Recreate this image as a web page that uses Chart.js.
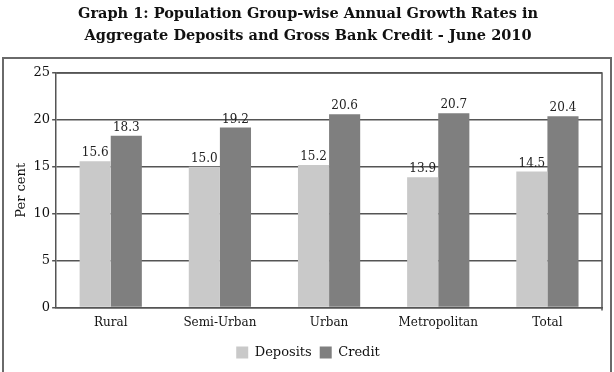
<!DOCTYPE html>
<html>
<head>
<meta charset="utf-8">
<script src="https://cdn.jsdelivr.net/npm/chart.js@4"></script>
<style>
html,body{margin:0;padding:0;background:#fff;}
#wrap{width:614px;height:372px;position:relative;}
</style>
</head>
<body>
<div id="wrap"><canvas id="c" width="614" height="372"></canvas></div>
<script>
const categories = ["Rural", "Semi-Urban", "Urban", "Metropolitan", "Total"];
const deposits = [15.6, 15.0, 15.2, 13.9, 14.5];
const credit = [18.3, 19.2, 20.6, 20.7, 20.4];
const yTicks = [0, 5, 10, 15, 20, 25];
const titleLines = ["Graph 1: Population Group-wise Annual Growth Rates in", "Aggregate Deposits and Gross Bank Credit - June 2010"];

const FONT = "'DejaVu Serif', 'Liberation Serif', serif";

const framePlugin = {
  id: 'frame',
  beforeDraw(chart) {
    const ctx = chart.ctx;
    ctx.save();
    ctx.fillStyle = '#fff';
    ctx.fillRect(0, 0, chart.width, chart.height);
    ctx.strokeStyle = '#6a6a6a';
    ctx.lineWidth = 2;
    ctx.beginPath();
    ctx.moveTo(3, 372);
    ctx.lineTo(3, 58);
    ctx.lineTo(611, 58);
    ctx.lineTo(611, 372);
    ctx.stroke();
    ctx.restore();
  },
  afterDraw(chart) {
    const a = chart.chartArea;
    const ctx = chart.ctx;
    ctx.save();
    ctx.strokeStyle = '#555';
    ctx.lineWidth = 1.5;
    ctx.beginPath();
    ctx.moveTo(a.left, a.top);
    ctx.lineTo(a.right, a.top);
    ctx.lineTo(a.right, a.bottom + 3);
    ctx.stroke();
    ctx.restore();
  }
};

const labelPlugin = {
  id: 'vlabels',
  afterDatasetsDraw(chart) {
    const ctx = chart.ctx;
    ctx.save();
    ctx.font = "12px " + FONT;
    ctx.fillStyle = '#222';
    ctx.textAlign = 'center';
    ctx.textBaseline = 'bottom';
    chart.data.datasets.forEach((ds, i) => {
      chart.getDatasetMeta(i).data.forEach((bar, j) => {
        ctx.fillText(ds.data[j].toFixed(1), bar.x, bar.y - 2);
      });
    });
    ctx.restore();
  }
};

new Chart(document.getElementById('c'), {
  type: 'bar',
  data: {
    labels: categories,
    datasets: [
      { label: 'Deposits', data: deposits, backgroundColor: '#c9c9c9', borderWidth: 0 },
      { label: 'Credit', data: credit, backgroundColor: '#7f7f7f', borderWidth: 0 }
    ]
  },
  options: {
    responsive: false,
    animation: false,
    devicePixelRatio: 1,
    datasets: { bar: { categoryPercentage: 0.57, barPercentage: 1.0 } },
    layout: { padding: { left: 14, right: 12, top: 0, bottom: 3 } },
    plugins: {
      title: {
        display: true,
        text: titleLines,
        color: '#111',
        font: { family: FONT, size: 14.5, weight: 'bold', lineHeight: 1.55 },
        padding: { top: 3, bottom: 25 }
      },
      legend: {
        display: true,
        position: 'bottom',
        labels: {
          boxWidth: 12, boxHeight: 12, padding: 8,
          color: '#111',
          font: { family: FONT, size: 13 }
        }
      },
      tooltip: { enabled: false }
    },
    scales: {
      x: {
        grid: { display: false, drawTicks: false },
        border: { display: true, color: '#555', width: 1.5 },
        ticks: { color: '#111', font: { family: FONT, size: 12 }, padding: 8 }
      },
      y: {
        min: 0, max: 25,
        afterBuildTicks(scale) { scale.ticks = yTicks.map(v => ({ value: v })); },
        grid: { color: '#555', lineWidth: 1.5, tickLength: 4 },
        border: { display: true, color: '#555', width: 1.5 },
        ticks: { color: '#111', font: { family: FONT, size: 13 }, padding: 2 },
        title: { display: true, text: 'Per cent', color: '#111', font: { family: FONT, size: 13 }, padding: { top: 0, bottom: 2 } }
      }
    }
  },
  plugins: [framePlugin, labelPlugin]
});
</script>
</body>
</html>
